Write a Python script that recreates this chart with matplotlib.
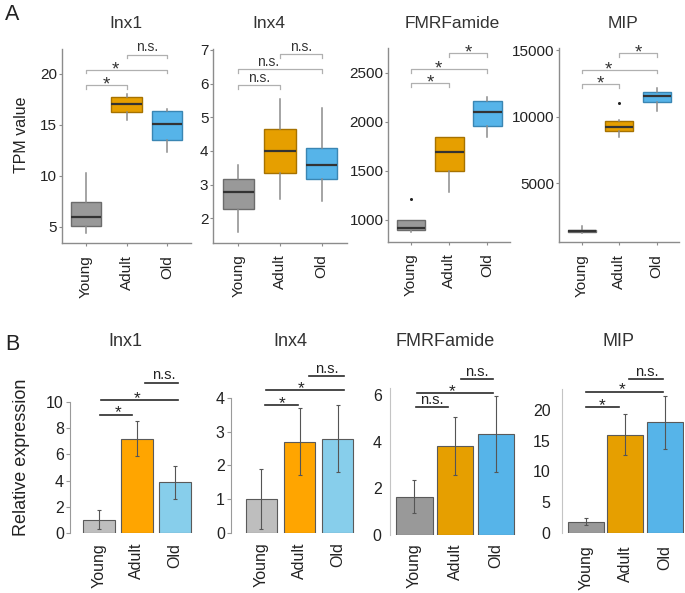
import matplotlib
matplotlib.use('Agg')
import matplotlib.pyplot as plt

plt.rcParams['font.family'] = ['Liberation Sans', 'DejaVu Sans']

groups = ['Young', 'Adult', 'Old']
genes = ['Inx1', 'Inx4', 'FMRFamide', 'MIP']

# A: TPM boxplots, per group: whisker low, q1, median, q3, whisker high
inx1_box = [[4.4, 5.1, 5.95, 7.45, 10.3], [15.5, 16.3, 17.1, 17.7, 18.0], [12.4, 13.5, 15.1, 16.4, 16.6]]
inx4_box = [[1.58, 2.28, 2.77, 3.17, 3.58], [2.56, 3.36, 4.0, 4.64, 5.53], [2.52, 3.18, 3.57, 4.1, 5.27]]
fmrf_box = [[882, 898, 922, 1000, 1000], [1285, 1494, 1690, 1850, 1850], [1847, 1959, 2102, 2207, 2255]]
mip_box = [[1300, 1350, 1450, 1530, 1800], [8450, 8930, 9230, 9700, 9750], [10425, 11125, 11575, 11825, 12125]]
inx1_out = [[], [], []]
inx4_out = [[], [], []]
fmrf_out = [[1211], [], []]
mip_out = [[], [11000], []]

# significance for Young-Adult, Young-Old, Adult-Old
inx1_sig = ['*', '*', 'n.s.']
inx4_sig = ['n.s.', 'n.s.', 'n.s.']
fmrf_sig = ['*', '*', '*']
mip_sig = ['*', '*', '*']
inx1_sig_y = [18.9, 20.4, 21.9]
inx4_sig_y = [5.95, 6.43, 6.87]
fmrf_sig_y = [2392, 2537, 2697]
mip_sig_y = [12425, 13500, 14750]

inx1_ticks = [5, 10, 15, 20]
inx4_ticks = [2, 3, 4, 5, 6, 7]
fmrf_ticks = [1000, 1500, 2000, 2500]
mip_ticks = [5000, 10000, 15000]

# B: relative expression, mean and error bar ends
inx1_rel = [1.0, 7.18, 3.85]
inx1_lo = [0.3, 5.85, 2.6]
inx1_hi = [1.75, 8.6, 5.08]
inx4_rel = [1.0, 2.69, 2.8]
inx4_lo = [0.11, 1.72, 1.82]
inx4_hi = [1.9, 3.7, 3.8]
fmrf_rel = [1.65, 3.8, 4.35]
fmrf_lo = [0.96, 2.56, 2.71]
fmrf_hi = [2.36, 5.07, 5.97]
mip_rel = [1.8, 15.95, 18.0]
mip_lo = [1.25, 12.6, 13.6]
mip_hi = [2.35, 19.35, 22.3]

inx1_rsig = ['*', '*', 'n.s.']
inx4_rsig = ['*', '*', 'n.s.']
fmrf_rsig = ['n.s.', '*', 'n.s.']
mip_rsig = ['*', '*', 'n.s.']
inx1_rsig_y = [9.05, 10.15, 11.5]
inx4_rsig_y = [3.8, 4.24, 4.66]
fmrf_rsig_y = [5.47, 6.07, 6.68]
mip_rsig_y = [20.5, 22.98, 25.0]

inx1_rticks = [0, 2, 4, 6, 8, 10]
inx4_rticks = [0, 1, 2, 3, 4]
fmrf_rticks = [0, 2, 4, 6]
mip_rticks = [0, 5, 10, 15, 20]

W, H = 685, 593
fig = plt.figure(figsize=(W / 100, H / 100), dpi=100)


def add_ax(l, t, r, b):
    return fig.add_axes([l / W, 1 - b / H, (r - l) / W, (b - t) / H])


txt = '#222222'
box_fill = ['#999999', '#E69F00', '#56B4E9']
box_edge = ['#6c6c6c', '#a67200', '#3a86b3']

# ---------- A: boxplots ----------
top_boxes = [(61.7, 49, 191.3, 243), (213.3, 49.3, 346.7, 242.7),
             (388.3, 48.3, 510.2, 241.7), (559.2, 48.3, 679.2, 242)]
top_ylims = [(3.43, 22.45), (1.275, 7.02), (779, 2748), (596, 15128)]
all_box = [inx1_box, inx4_box, fmrf_box, mip_box]
all_out = [inx1_out, inx4_out, fmrf_out, mip_out]
all_sig = [inx1_sig, inx4_sig, fmrf_sig, mip_sig]
all_sig_y = [inx1_sig_y, inx4_sig_y, fmrf_sig_y, mip_sig_y]
all_ticks = [inx1_ticks, inx4_ticks, fmrf_ticks, mip_ticks]
pairs = [(1, 2), (1, 3), (2, 3)]

for i in range(4):
    ax = add_ax(*top_boxes[i])
    stats = []
    for g in range(3):
        lo, q1, med, q3, hi = all_box[i][g]
        stats.append(dict(whislo=lo, q1=q1, med=med, q3=q3, whishi=hi, fliers=all_out[i][g]))
    bp = ax.bxp(stats, positions=[1, 2, 3], widths=0.75, patch_artist=True,
                showcaps=False,
                whiskerprops=dict(color='#8c8c8c', lw=1.1),
                medianprops=dict(color='#333333', lw=1.6),
                flierprops=dict(marker='o', markersize=2.2, markerfacecolor='#222222',
                                markeredgecolor='none'))
    for g, patch in enumerate(bp['boxes']):
        patch.set_facecolor(box_fill[g])
        patch.set_edgecolor(box_edge[g])
        patch.set_linewidth(1.0)
    ax.set_xlim(0.4, 3.6)
    ax.set_ylim(*top_ylims[i])
    ax.set_yticks(all_ticks[i])
    ax.set_xticks([1, 2, 3])
    ax.set_xticklabels(groups, rotation=90)
    for s in ['top', 'right']:
        ax.spines[s].set_visible(False)
    for s in ['left', 'bottom']:
        ax.spines[s].set_color('#8c8c8c')
        ax.spines[s].set_linewidth(1.0)
    ax.tick_params(axis='both', length=2.5, width=0.8, color='#8c8c8c', labelsize=11,
                   labelcolor=txt)
    ax.tick_params(axis='y', pad=1)
    ax.tick_params(axis='x', pad=6)

    # significance brackets
    span = top_ylims[i][1] - top_ylims[i][0]
    tip = span * 0.018
    for k, (a, b) in enumerate(pairs):
        y = all_sig_y[i][k]
        ax.plot([a, a, b, b], [y - tip, y, y, y - tip], color='#b0b0b0', lw=0.9,
                clip_on=False)
        lx = (a + b) / 2 if k != 1 else (a + b) / 2 - 0.28
        lab = all_sig[i][k]
        off = -3 if lab == '*' else 2.5
        ax.annotate(lab, (lx, y), xytext=(0, off), textcoords='offset points',
                    ha='center', va='baseline', fontsize=13.5 if lab == '*' else 10,
                    color='#333333', annotation_clip=False)

top_title_x = [126, 269, 452, 623]
for i in range(4):
    fig.text(top_title_x[i] / W, 1 - 23 / H, genes[i], ha='center', va='center',
             fontsize=12.5, color='#333333')
fig.text(22 / W, 1 - 135 / H, 'TPM value', rotation=90, ha='center', va='center',
         fontsize=11.5, color=txt)
fig.text(12 / W, 1 - 15 / H, 'A', ha='center', va='center', fontsize=15.5, color=txt)

# ---------- B: bar charts ----------
bot_boxes = [(70, 380, 195, 532.7), (231, 370, 355, 532.7),
             (390, 388.3, 518, 535), (561.7, 389.3, 684, 532.7)]
bot_xlims = [(0.225, 3.54), (0.21, 3.45), (0.405, 3.54), (0.393, 3.49)]
bot_ylims = [(0, 11.71), (0, 4.84), (0, 6.29), (0, 23.37)]
bar_widths = [0.85, 0.81, 0.9, 0.91]
bar_fills = [['#BEBEBE', '#FFA500', '#87CEEB'], ['#BEBEBE', '#FFA500', '#87CEEB'],
             ['#999999', '#E69F00', '#56B4E9'], ['#999999', '#E69F00', '#56B4E9']]
all_rel = [inx1_rel, inx4_rel, fmrf_rel, mip_rel]
all_lo = [inx1_lo, inx4_lo, fmrf_lo, mip_lo]
all_hi = [inx1_hi, inx4_hi, fmrf_hi, mip_hi]
all_rsig = [inx1_rsig, inx4_rsig, fmrf_rsig, mip_rsig]
all_rsig_y = [inx1_rsig_y, inx4_rsig_y, fmrf_rsig_y, mip_rsig_y]
all_rticks = [inx1_rticks, inx4_rticks, fmrf_rticks, mip_rticks]
line_spans = [[(1.03, 1.88), (1.06, 3.1), (2.22, 3.1)],
              [(1.1, 1.95), (1.13, 3.15), (2.24, 3.15)],
              [(1.04, 1.83), (1.07, 2.93), (2.14, 2.93)],
              [(1.01, 1.85), (1.01, 2.95), (2.1, 2.95)]]
label_x = [[1.5, 2.0, 2.7], [1.55, 2.03, 2.72], [1.43, 1.92, 2.53], [1.42, 1.91, 2.54]]
xlab_pad = [7.4, 7, 5.8, 9]

for i in range(4):
    ax = add_ax(*bot_boxes[i])
    x = [1, 2, 3]
    rel = all_rel[i]
    yerr = [[rel[g] - all_lo[i][g] for g in range(3)], [all_hi[i][g] - rel[g] for g in range(3)]]
    ax.bar(x, rel, width=bar_widths[i], color=bar_fills[i], edgecolor='#5a5a5a', lw=0.8,
           yerr=yerr, error_kw=dict(ecolor='#555555', elinewidth=0.8, capsize=1.5,
                                    capthick=0.8))
    ax.set_xlim(*bot_xlims[i])
    ax.set_ylim(*bot_ylims[i])
    ax.set_yticks(all_rticks[i])
    ax.set_xticks(x)
    ax.set_xticklabels(groups, rotation=90)
    for s in ['top', 'right', 'bottom']:
        ax.spines[s].set_visible(False)
    ax.tick_params(axis='x', length=0, pad=xlab_pad[i], labelsize=11.5, labelcolor=txt)
    if i < 2:
        ax.spines['left'].set_bounds(all_rticks[i][0], all_rticks[i][-1])
        ax.spines['left'].set_color('#9a9a9a')
        ax.spines['left'].set_linewidth(0.8)
        ax.tick_params(axis='y', length=3, width=0.8, color='#9a9a9a', pad=1.5,
                       labelsize=11.5, labelcolor=txt)
    else:
        ax.spines['left'].set_color('#c4c4c4')
        ax.spines['left'].set_linewidth(0.8)
        ax.tick_params(axis='y', length=0, pad=6 if i == 2 else 8, labelsize=11.5,
                       labelcolor=txt)

    for k in range(3):
        a, b = line_spans[i][k]
        y = all_rsig_y[i][k]
        ax.plot([a, b], [y, y], color='#2a2a2a', lw=1.2, clip_on=False)
        lab = all_rsig[i][k]
        off = -2 if lab == '*' else 2.5
        ax.annotate(lab, (label_x[i][k], y), xytext=(0, off), textcoords='offset points',
                    ha='center', va='baseline', fontsize=12.5 if lab == '*' else 10.5,
                    color=txt, annotation_clip=False)

bot_title_x = [125, 290, 445, 618]
for i in range(4):
    fig.text(bot_title_x[i] / W, 1 - 342 / H, genes[i], ha='center', va='center',
             fontsize=13, color='#333333')
fig.text(22 / W, 1 - 457 / H, 'Relative expression', rotation=90, ha='center',
         va='center', fontsize=13, color=txt)
fig.text(12 / W, 1 - 344 / H, 'B', ha='center', va='center', fontsize=15.5, color=txt)

fig.savefig('out.png', dpi=100)
